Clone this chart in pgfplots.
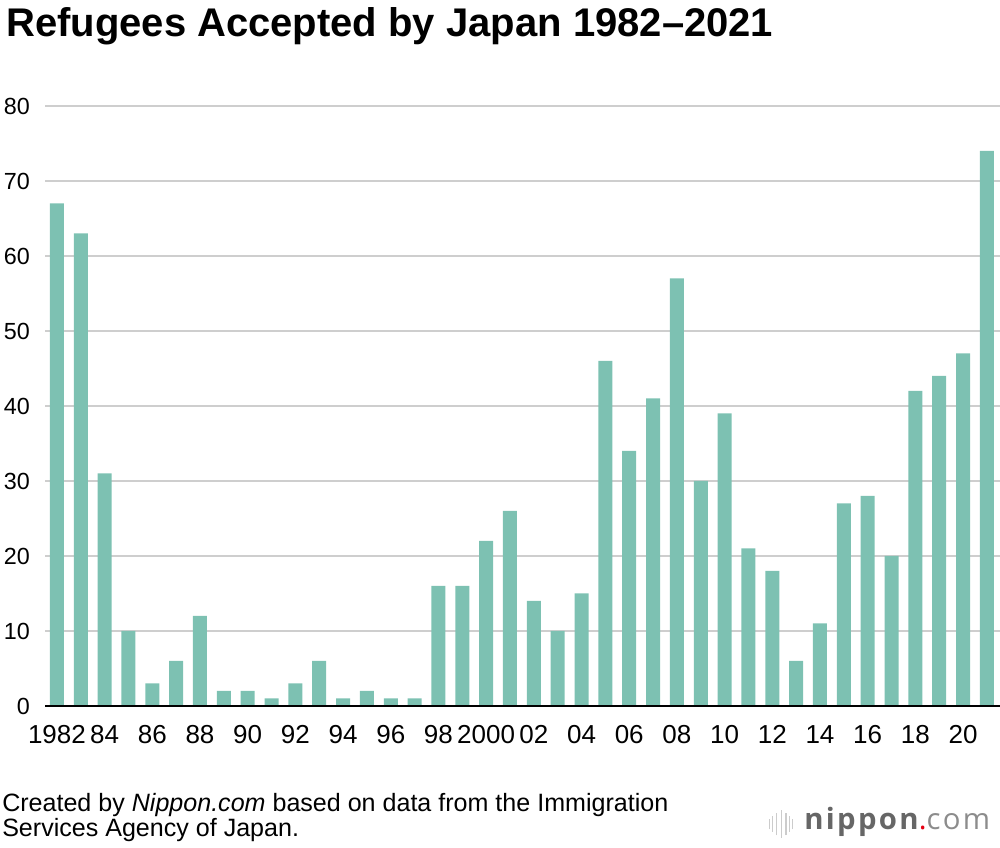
\documentclass[border=0pt]{standalone}
\usepackage{fontspec}
\setmainfont{Liberation Sans}
\newfontfamily\logofont[LetterSpace=8]{Open Sans}
\usepackage{pgfplots}
\pgfplotsset{compat=1.18}
\definecolor{barc}{RGB}{125,193,178}
\definecolor{gridc}{RGB}{206,206,206}
\definecolor{logog}{RGB}{102,102,102}
\definecolor{logol}{RGB}{140,140,140}
\definecolor{logor}{RGB}{230,0,18}
\begin{document}
\begin{tikzpicture}[x=1pt,y=1pt]
\useasboundingbox (0,0) rectangle (750,636);
\begin{axis}[at={(33.75pt,106.5pt)}, anchor=south west, scale only axis,
  width=716.25pt, height=450pt,
  xmin=-0.5, xmax=39.55, ymin=0, ymax=80,
  ybar, bar width=10.5pt, bar shift=0pt,
  axis line style={draw=none}, major tick length=0pt,
  ytick={0,10,...,80}, ymajorgrids, grid style={gridc, line width=1.3pt},
  xtick={0,2,...,38},
  xticklabels={1982,84,86,88,90,92,94,96,98,2000,02,04,06,08,10,12,14,16,18,20},
  tick label style={inner sep=0pt},
  yticklabel style={font=\fontsize{17.5}{17.5}\selectfont, anchor=east, xshift=-11.25pt},
  xticklabel style={font=\fontsize{19.5}{19.5}\selectfont, anchor=north, yshift=-14.25pt},
  /pgf/number format/assume math mode=true,
  clip=false,
]
\addplot[fill=barc, draw=none] coordinates {
(0,67) (1,63) (2,31) (3,10) (4,3) (5,6) (6,12) (7,2) (8,2) (9,1)
(10,3) (11,6) (12,1) (13,2) (14,1) (15,1) (16,16) (17,16) (18,22) (19,26)
(20,14) (21,10) (22,15) (23,46) (24,34) (25,41) (26,57) (27,30) (28,39) (29,21)
(30,18) (31,6) (32,11) (33,27) (34,28) (35,20) (36,42) (37,44) (38,47) (39,74)
};
\draw[black, line width=1.7pt] (rel axis cs:0,0) -- (rel axis cs:1,0);
\end{axis}
\node[anchor=base west, inner sep=0pt, font=\fontsize{30}{30}\selectfont\bfseries] at (4.5,608.25) {Refugees Accepted by Japan 1982--2021};
\node[anchor=base west, inner sep=0pt, font=\fontsize{18.8}{18.8}\selectfont] at (1.5,27.2) {Created by \textit{Nippon.com} based on data from the Immigration};
\node[anchor=base west, inner sep=0pt, font=\fontsize{18.8}{18.8}\selectfont] at (1.5,8.5) {Services Agency of Japan.};
% logo
\foreach \xx/\hh in {577/8, 579.5/12, 582.5/17, 586/21, 589.5/17, 592/12, 594.5/8}
  \draw[gray!40, line width=1.1pt] (\xx,18-\hh/2) -- (\xx,18+\hh/2);
\node[anchor=base west, inner sep=0pt, font=\fontsize{22}{22}\selectfont\logofont] at (603,13.5)
  {\textcolor{logog}{\bfseries nippon}\textcolor{logor}{.}\textcolor{logol}{com}};
\end{tikzpicture}
\end{document}
